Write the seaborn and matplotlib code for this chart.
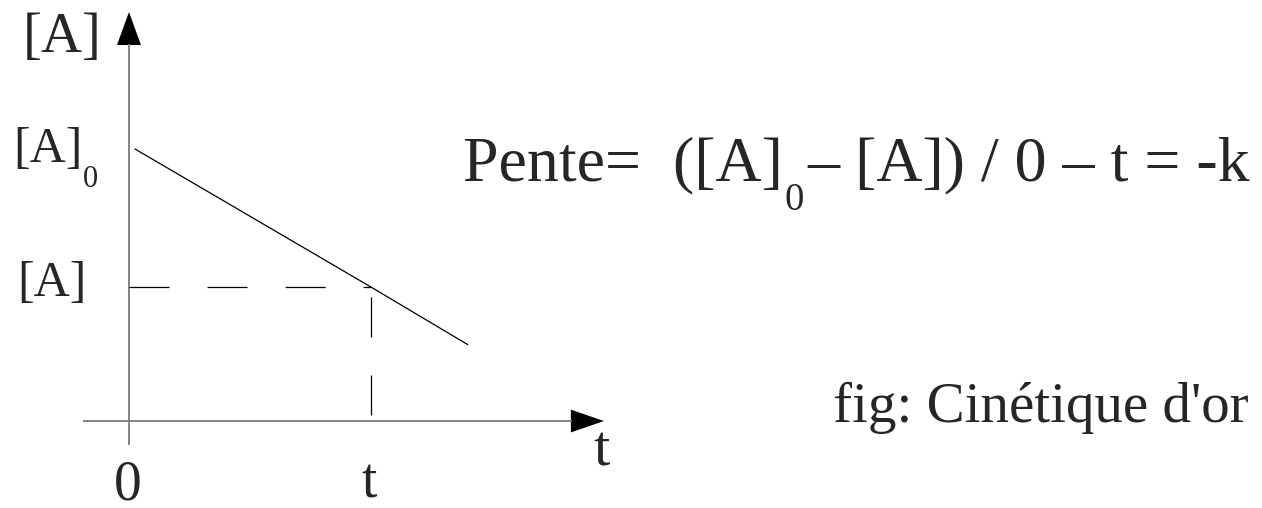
import matplotlib
matplotlib.use("Agg")
import matplotlib.pyplot as plt
import seaborn as sns
import pandas as pd

# Zero-order kinetics: concentration falls linearly with time
time = [0.025, 1.0, 1.40]
conc = [2.03, 1.0, 0.57]
t_mark = 1.0
conc_mark = 1.0

W, H = 1262, 508
DPI = 100
SERIF = "Liberation Serif"

sns.set_theme(style="white")
plt.rcParams["font.family"] = SERIF
plt.rcParams["lines.scale_dashes"] = False

fig = plt.figure(figsize=(W / DPI, H / DPI), dpi=DPI)
ax = fig.add_axes([0, 0, 1, 1])
ax.set_xlim(-0.533, 4.682)
ax.set_ylim(-0.649, 3.142)
ax.axis("off")

df = pd.DataFrame({"t": time, "A": conc})
sns.lineplot(data=df, x="t", y="A", ax=ax, color="black", lw=0.9, sort=True)

# axes with filled arrowheads
axis_col = "#7a7a7a"
ax.plot([-0.19, 1.83], [0, 0], color=axis_col, lw=1.3, solid_capstyle="butt")
ax.plot([0, 0], [-0.179, 2.81], color=axis_col, lw=1.3, solid_capstyle="butt")
ax.fill([1.826, 1.963, 1.826], [-0.085, 0, 0.085], color="black", lw=0)
ax.fill([-0.0496, 0, 0.0496], [2.806, 3.052, 2.806], color="black", lw=0)

# guides at time t
ax.plot([0, t_mark], [conc_mark, conc_mark], color="black", lw=0.9,
        dashes=(28.8, 27.4))
ax.plot([t_mark, t_mark], [0.045, conc_mark], color="black", lw=0.9,
        dashes=(28.8, 27.4))

fig.canvas.draw()
renderer = fig.canvas.get_renderer()


def put(x, y, s, size, ha="left"):
    return fig.text(x / W, 1 - y / H, s, fontsize=size, va="baseline", ha=ha,
                    family=SERIF)


def chain(x, y, parts):
    """Place text pieces one after another; parts = (text, size, dx, dy)."""
    for s, size, dx, dy in parts:
        t = put(x + dx, y + dy, s, size)
        bb = t.get_window_extent(renderer)
        x = bb.x1


put(23, 52, "[A]", 41)
chain(13, 162, [("[A]", 36, 0, 0), ("0", 22, 1, 25)])
put(17, 296, "[A]", 36)
put(128, 500, "0", 40, ha="center")
put(369, 497, "t", 40, ha="center")
put(601, 466, "t", 42, ha="center")

chain(463, 180, [("Pente=  ([A]", 46, 0, 0), ("0", 28, 2, 30),
                 ("\u2013 [A]) / 0 \u2013 t = -k", 46, 3, 0)])

put(833, 422, "fig: Cin\u00e9tique d'or", 41)

fig.savefig("out.png", dpi=DPI)
